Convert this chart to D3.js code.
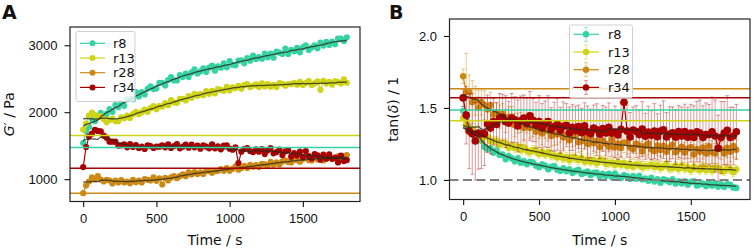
<!DOCTYPE html>
<html>
<head>
<meta charset="utf-8">
<script src="https://cdn.jsdelivr.net/npm/d3@7"></script>
<style>
  body { margin: 0; background: #fff; }
  svg { font-family: "DejaVu Sans", sans-serif; }
</style>
</head>
<body>
<div id="chart"></div>
<script>
// measurement times (s)
const times = [0, 20, 40, 60, 80, 100, 120, 140, 160, 180, 200, 220, 240, 260, 280, 300, 320, 340, 360, 380,
  400, 420, 440, 460, 480, 500, 520, 540, 560, 580, 600, 620, 640, 660, 680, 700, 720, 740, 760, 780,
  800, 820, 840, 860, 880, 900, 920, 940, 960, 980, 1000, 1020, 1040, 1060, 1080, 1100, 1120, 1140, 1160,
  1180, 1200, 1220, 1240, 1260, 1280, 1300, 1320, 1340, 1360, 1380, 1400, 1420, 1440, 1460, 1480, 1500,
  1520, 1540, 1560, 1580, 1600, 1620, 1640, 1660, 1680, 1700, 1720, 1740, 1760, 1780, 1800];

const names = ["r8", "r13", "r28", "r34"];
const colors = ["#35d3a2", "#d0d416", "#cc8a14", "#a80000"];

// panel A : G' / Pa
const gR8 = [1540, 1720, 1780, 1900, 1865, 1930, 1990, 1920, 1975, 2045,
  2005, 2105, 2075, 2135, 2095, 2195, 2200, 2195, 2300, 2235,
  2300, 2265, 2350, 2385, 2345, 2355, 2440, 2440, 2400, 2480,
  2525, 2475, 2475, 2555, 2525, 2575, 2525, 2595, 2640, 2580,
  2610, 2655, 2600, 2665, 2695, 2620, 2685, 2665, 2730, 2670,
  2765, 2710, 2700, 2770, 2775, 2730, 2810, 2770, 2845, 2795,
  2825, 2800, 2875, 2820, 2875, 2815, 2905, 2890, 2870, 2950,
  2870, 2930, 2910, 2960, 2895, 2970, 3000, 2930, 2965, 3000,
  2955, 3040, 2995, 3050, 3005, 3055, 3015, 3100, 3100, 3065, 3120];
const gR13 = [1740, 1830, 1950, 1995, 1955, 1930, 1940, 1900, 1850, 1885,
  1905, 1865, 1865, 1925, 1910, 1950, 1915, 1970, 2005, 1970,
  2000, 2040, 2005, 2060, 2090, 2045, 2090, 2085, 2135, 2105,
  2180, 2145, 2140, 2200, 2200, 2175, 2240, 2215, 2275, 2245,
  2270, 2255, 2315, 2275, 2320, 2280, 2345, 2335, 2320, 2380,
  2325, 2370, 2360, 2395, 2350, 2405, 2420, 2375, 2395, 2415,
  2375, 2430, 2385, 2420, 2380, 2410, 2375, 2435, 2425, 2395,
  2420, 2420, 2440, 2410, 2455, 2405, 2435, 2465, 2405, 2430,
  2460, 2335, 2470, 2430, 2455, 2410, 2465, 2450, 2430, 2490, 2440];
const gR28 = [790, 905, 965, 1025, 995, 1045, 995, 965, 990, 980,
  935, 980, 950, 985, 950, 965, 940, 990, 955, 980,
  950, 1000, 990, 980, 1025, 975, 1010, 920, 1020, 980,
  1025, 1045, 1015, 1045, 1070, 1045, 1100, 1070, 1105, 1075,
  1100, 1075, 1125, 1120, 1095, 1120, 1125, 1150, 1125, 1165,
  1125, 1155, 1190, 1140, 1165, 1200, 1165, 1215, 1185, 1210,
  1180, 1230, 1220, 1205, 1260, 1215, 1250, 1220, 1265, 1280,
  1255, 1250, 1295, 1285, 1260, 1300, 1320, 1285, 1280, 1320,
  1295, 1320, 1280, 1320, 1335, 1300, 1310, 1340, 1305, 1340, 1360];
const gR34 = [1180, 1480, 1640, 1680, 1735, 1720, 1715, 1650, 1620, 1560,
  1560, 1560, 1500, 1505, 1520, 1475, 1525, 1480, 1510, 1465,
  1485, 1450, 1505, 1495, 1465, 1485, 1485, 1505, 1475, 1520,
  1465, 1495, 1525, 1460, 1485, 1515, 1470, 1515, 1475, 1500,
  1455, 1505, 1485, 1460, 1520, 1460, 1490, 1445, 1500, 1505,
  1455, 1440, 1475, 1240, 1410, 1450, 1465, 1420, 1405, 1445,
  1410, 1450, 1375, 1430, 1465, 1385, 1405, 1440, 1360, 1415,
  1435, 1335, 1390, 1355, 1410, 1330, 1420, 1345, 1310, 1375,
  1355, 1290, 1365, 1305, 1370, 1305, 1320, 1250, 1350, 1270, 1285];
const gRefLines = [1472, 1651, 791, 1164];

// panel B : tan(delta)
const tR8 = [1.48, 1.43, 1.365, 1.34, 1.29, 1.285, 1.275, 1.23, 1.215, 1.22,
  1.19, 1.205, 1.175, 1.175, 1.145, 1.165, 1.15, 1.13, 1.15, 1.12,
  1.13, 1.11, 1.125, 1.12, 1.10, 1.09, 1.107, 1.098, 1.075, 1.09,
  1.095, 1.072, 1.063, 1.08, 1.062, 1.073, 1.05, 1.062, 1.07, 1.042,
  1.05, 1.057, 1.035, 1.048, 1.05, 1.023, 1.041, 1.029, 1.042, 1.02,
  1.043, 1.021, 1.014, 1.032, 1.025, 1.008, 1.026, 1.009, 1.027, 1.005,
  1.008, 0.995, 1.013, 0.99, 1.003, 0.981, 1.004, 0.997, 0.985, 1.003,
  0.976, 0.989, 0.977, 0.99, 0.968, 0.986, 0.989, 0.962, 0.97, 0.974,
  0.958, 0.977, 0.961, 0.975, 0.954, 0.968, 0.952, 0.971, 0.965, 0.948, 0.945];
const tR13 = [1.43, 1.385, 1.35, 1.355, 1.325, 1.325, 1.295, 1.30, 1.30, 1.268,
  1.27, 1.273, 1.246, 1.255, 1.254, 1.223, 1.237, 1.222, 1.232, 1.207,
  1.227, 1.202, 1.193, 1.209, 1.20, 1.18, 1.196, 1.177, 1.193, 1.169,
  1.17, 1.156, 1.172, 1.148, 1.16, 1.137, 1.159, 1.151, 1.138, 1.155,
  1.127, 1.139, 1.126, 1.138, 1.116, 1.134, 1.137, 1.11, 1.118, 1.121,
  1.104, 1.122, 1.105, 1.118, 1.096, 1.109, 1.092, 1.11, 1.104, 1.088,
  1.097, 1.096, 1.105, 1.089, 1.103, 1.082, 1.096, 1.105, 1.079, 1.083,
  1.097, 1.076, 1.10, 1.079, 1.088, 1.067, 1.091, 1.08, 1.069, 1.093,
  1.067, 1.081, 1.065, 1.084, 1.083, 1.067, 1.061, 1.08, 1.074, 1.053, 1.072];
const tR28 = [1.72, 1.61, 1.61, 1.54, 1.55, 1.50, 1.54, 1.52, 1.49, 1.52,
  1.455, 1.47, 1.44, 1.46, 1.41, 1.44, 1.44, 1.38, 1.395, 1.40,
  1.36, 1.395, 1.36, 1.38, 1.335, 1.36, 1.323, 1.357, 1.34, 1.305,
  1.32, 1.315, 1.33, 1.295, 1.32, 1.275, 1.30, 1.316, 1.262, 1.268,
  1.294, 1.25, 1.297, 1.254, 1.271, 1.228, 1.275, 1.252, 1.23, 1.278,
  1.226, 1.254, 1.222, 1.26, 1.258, 1.226, 1.214, 1.252, 1.24, 1.198,
  1.236, 1.254, 1.212, 1.20, 1.239, 1.208, 1.237, 1.196, 1.225, 1.244,
  1.193, 1.212, 1.231, 1.19, 1.219, 1.228, 1.177, 1.216, 1.195, 1.225,
  1.184, 1.234, 1.193, 1.183, 1.223, 1.213, 1.184, 1.224, 1.195, 1.236, 1.21];
const tR34 = [1.57, 1.45, 1.34, 1.32, 1.27, 1.325, 1.32, 1.32, 1.39, 1.36,
  1.405, 1.385, 1.43, 1.435, 1.405, 1.395, 1.43, 1.418, 1.375, 1.413,
  1.43, 1.39, 1.445, 1.415, 1.38, 1.405, 1.36, 1.388, 1.405, 1.352,
  1.37, 1.387, 1.345, 1.372, 1.38, 1.327, 1.365, 1.342, 1.37, 1.328,
  1.376, 1.334, 1.322, 1.36, 1.349, 1.318, 1.357, 1.326, 1.365, 1.324,
  1.333, 1.312, 1.351, 1.54, 1.339, 1.298, 1.347, 1.336, 1.315, 1.354,
  1.303, 1.332, 1.311, 1.34, 1.30, 1.339, 1.349, 1.298, 1.318, 1.327,
  1.297, 1.336, 1.306, 1.336, 1.296, 1.325, 1.295, 1.335, 1.325, 1.295,
  1.315, 1.315, 1.335, 1.305, 1.22, 1.295, 1.325, 1.345, 1.295, 1.305, 1.335];
// error bars (+/-)
const eR8 = [0.03, 0.03, 0.03, 0.03, 0.03, 0.02, 0.02, 0.02, 0.02, 0.02,
  0.02, 0.02, 0.02, 0.02, 0.02, 0.02, 0.02, 0.02, 0.02, 0.02,
  0.02, 0.02, 0.02, 0.02, 0.02, 0.02, 0.02, 0.02, 0.02, 0.02,
  0.02, 0.02, 0.02, 0.02, 0.02, 0.02, 0.02, 0.02, 0.02, 0.02,
  0.02, 0.02, 0.02, 0.02, 0.02, 0.02, 0.02, 0.02, 0.02, 0.02,
  0.02, 0.02, 0.02, 0.02, 0.02, 0.02, 0.02, 0.02, 0.02, 0.02,
  0.02, 0.02, 0.02, 0.02, 0.02, 0.02, 0.02, 0.02, 0.02, 0.02,
  0.02, 0.02, 0.02, 0.02, 0.02, 0.02, 0.02, 0.02, 0.02, 0.02,
  0.02, 0.02, 0.02, 0.02, 0.02, 0.02, 0.02, 0.02, 0.02, 0.02, 0.02];
const eR13 = [0.05, 0.05, 0.04, 0.04, 0.04, 0.04, 0.04, 0.04, 0.03, 0.03,
  0.03, 0.03, 0.03, 0.03, 0.03, 0.03, 0.03, 0.03, 0.03, 0.03,
  0.03, 0.03, 0.03, 0.03, 0.03, 0.03, 0.03, 0.03, 0.03, 0.03,
  0.03, 0.03, 0.03, 0.03, 0.03, 0.03, 0.03, 0.03, 0.03, 0.03,
  0.03, 0.03, 0.03, 0.03, 0.03, 0.03, 0.03, 0.03, 0.03, 0.03,
  0.03, 0.03, 0.03, 0.03, 0.03, 0.03, 0.03, 0.03, 0.03, 0.03,
  0.03, 0.03, 0.03, 0.03, 0.03, 0.03, 0.03, 0.03, 0.03, 0.03,
  0.03, 0.03, 0.03, 0.03, 0.03, 0.03, 0.03, 0.03, 0.03, 0.03,
  0.03, 0.03, 0.03, 0.03, 0.03, 0.03, 0.03, 0.03, 0.03, 0.03, 0.03];
const eR28 = [0.05, 0.27, 0.12, 0.15, 0.10, 0.12, 0.09, 0.10, 0.08, 0.09,
  0.08, 0.07, 0.08, 0.07, 0.08, 0.07, 0.07, 0.08, 0.07, 0.07,
  0.08, 0.07, 0.07, 0.08, 0.07, 0.07, 0.08, 0.07, 0.07, 0.07,
  0.08, 0.07, 0.07, 0.08, 0.07, 0.07, 0.07, 0.08, 0.07, 0.07,
  0.08, 0.07, 0.07, 0.07, 0.08, 0.07, 0.07, 0.08, 0.07, 0.07,
  0.07, 0.08, 0.07, 0.07, 0.08, 0.07, 0.07, 0.07, 0.08, 0.07,
  0.07, 0.08, 0.07, 0.07, 0.07, 0.08, 0.07, 0.07, 0.08, 0.07,
  0.07, 0.07, 0.08, 0.07, 0.07, 0.08, 0.07, 0.07, 0.07, 0.08,
  0.07, 0.07, 0.08, 0.07, 0.07, 0.07, 0.08, 0.07, 0.07, 0.08, 0.07];
const eR34 = [0.06, 0.20, 0.26, 0.28, 0.27, 0.25, 0.24, 0.22, 0.20, 0.18,
  0.16, 0.15, 0.17, 0.16, 0.18, 0.15, 0.17, 0.16, 0.18, 0.17,
  0.16, 0.18, 0.17, 0.15, 0.16, 0.18, 0.17, 0.16, 0.18, 0.15,
  0.17, 0.18, 0.16, 0.17, 0.15, 0.18, 0.16, 0.17, 0.15, 0.17,
  0.16, 0.18, 0.17, 0.16, 0.18, 0.17, 0.16, 0.18, 0.17, 0.16,
  0.18, 0.17, 0.19, 0.02, 0.18, 0.17, 0.16, 0.18, 0.17, 0.19,
  0.16, 0.18, 0.17, 0.19, 0.16, 0.18, 0.20, 0.17, 0.19, 0.18,
  0.19, 0.18, 0.20, 0.19, 0.21, 0.20, 0.22, 0.21, 0.23, 0.22,
  0.22, 0.21, 0.24, 0.25, 0.23, 0.25, 0.22, 0.24, 0.21, 0.20, 0.19];
const tRefLines = [1.485, 1.411, 1.633, 1.571];

const xTicks = [0, 500, 1000, 1500];
const gTicks = [1000, 2000, 3000];
const tTicks = [1.0, 1.5, 2.0];

// ---- layout ----
const width = 754;
const height = 250;
const svg = d3.select("#chart").append("svg")
  .attr("width", width)
  .attr("height", height);

const boxA = { left: 70, right: 360, top: 27, bottom: 201.5 };
const boxB = { left: 449.5, right: 750, top: 19, bottom: 199.5 };

const xA = d3.scaleLinear().domain([-90, 1890]).range([boxA.left, boxA.right]);
const yA = d3.scaleLinear().domain([666, 3273]).range([boxA.bottom, boxA.top]);
const xB = d3.scaleLinear().domain([-90, 1890]).range([boxB.left, boxB.right]);
const yB = d3.scaleLinear().domain([0.864, 2.118]).range([boxB.bottom, boxB.top]);

// rolling mean for the dark trend lines
function rollingMean(values, half) {
  return values.map((v, i) => d3.mean(values.slice(Math.max(0, i - half), i + half + 1)));
}

function addClip(id, box) {
  svg.append("clipPath").attr("id", id).append("rect")
    .attr("x", box.left).attr("y", box.top)
    .attr("width", box.right - box.left).attr("height", box.bottom - box.top);
}
addClip("clipA", boxA);
addClip("clipB", boxB);

function drawAxes(box, x, y, yTicks, yFormat) {
  svg.append("g")
    .attr("transform", `translate(0,${box.bottom})`)
    .call(d3.axisBottom(x).tickValues(xTicks).tickSize(5.5).tickPadding(7).tickFormat(d3.format("d")))
    .call(g => g.select(".domain").remove())
    .call(g => g.selectAll("text").attr("font-size", 13).attr("fill", "#111"))
    .call(g => g.selectAll("line").attr("stroke", "#111").attr("stroke-width", 1.1));
  svg.append("g")
    .attr("transform", `translate(${box.left},0)`)
    .call(d3.axisLeft(y).tickValues(yTicks).tickSize(5.5).tickPadding(7).tickFormat(yFormat))
    .call(g => g.select(".domain").remove())
    .call(g => g.selectAll("text").attr("font-size", 13).attr("fill", "#111"))
    .call(g => g.selectAll("line").attr("stroke", "#111").attr("stroke-width", 1.1));
  svg.append("text")
    .attr("x", (box.left + box.right) / 2).attr("y", 245)
    .attr("text-anchor", "middle").attr("font-size", 14).attr("fill", "#111")
    .text("Time / s");
}

function drawFrame(box) {
  svg.append("rect")
    .attr("x", box.left).attr("y", box.top)
    .attr("width", box.right - box.left).attr("height", box.bottom - box.top)
    .attr("fill", "none").attr("stroke", "#222").attr("stroke-width", 1.2);
}

// ================= Panel A =================
const gSeries = [gR8, gR13, gR28, gR34];
const plotA = svg.append("g").attr("clip-path", "url(#clipA)");

gSeries.forEach((vals, k) => {
  const pts = times.map((t, i) => [t, vals[i]]);
  plotA.append("path")
    .datum(pts)
    .attr("fill", "none").attr("stroke", colors[k]).attr("stroke-width", 1.2)
    .attr("d", d3.line().x(d => xA(d[0])).y(d => yA(d[1])));
  plotA.append("g").selectAll("circle")
    .data(pts)
    .join("circle")
    .attr("cx", d => xA(d[0]))
    .attr("cy", d => yA(d[1]))
    .attr("r", 3.1)
    .attr("fill", colors[k]);
});

gSeries.forEach(vals => {
  const sm = rollingMean(vals, 5);
  plotA.append("path")
    .datum(times.map((t, i) => [t, sm[i]]))
    .attr("fill", "none").attr("stroke", "#2a2a1e").attr("stroke-opacity", 0.8).attr("stroke-width", 1.3)
    .attr("d", d3.line().curve(d3.curveMonotoneX).x(d => xA(d[0])).y(d => yA(d[1])));
});

// legend A
const legA = svg.append("g");
legA.append("rect")
  .attr("x", 76).attr("y", 31.5).attr("width", 59).attr("height", 70).attr("rx", 2)
  .attr("fill", "#fff").attr("fill-opacity", 0.8).attr("stroke", "#d0d0d0");
names.forEach((n, k) => {
  const yy = 43.3 + k * 14.7;
  legA.append("line").attr("x1", 80).attr("x2", 105).attr("y1", yy).attr("y2", yy)
    .attr("stroke", colors[k]).attr("stroke-width", 1.2);
  legA.append("circle").attr("cx", 92.5).attr("cy", yy).attr("r", 3).attr("fill", colors[k]);
  legA.append("text").attr("x", 113).attr("y", yy).attr("dy", "0.35em")
    .attr("font-size", 13).attr("fill", "#111").text(n);
});

gRefLines.forEach((v, k) => {
  plotA.append("line")
    .attr("x1", boxA.left).attr("x2", boxA.right)
    .attr("y1", yA(v)).attr("y2", yA(v))
    .attr("stroke", colors[k]).attr("stroke-width", 1.5);
});

drawFrame(boxA);
drawAxes(boxA, xA, yA, gTicks, d3.format("d"));

const labA = svg.append("text")
  .attr("transform", `translate(14,${(boxA.top + boxA.bottom) / 2}) rotate(-90)`)
  .attr("text-anchor", "middle").attr("font-size", 14).attr("fill", "#111");
labA.append("tspan").attr("font-style", "italic").text("G");
labA.append("tspan").text("\u2032 / Pa");

svg.append("text").attr("x", 2).attr("y", 19)
  .attr("font-size", 19).attr("font-weight", "bold").attr("fill", "#111").text("A");

// ================= Panel B =================
const tSeries = [tR8, tR13, tR28, tR34];
const tErrors = [eR8, eR13, eR28, eR34];
const errOpacity = [0.5, 0.5, 0.45, 0.4];
const plotB = svg.append("g").attr("clip-path", "url(#clipB)");

tSeries.forEach((vals, k) => {
  const pts = times.map((t, i) => ({ t: t, v: vals[i], e: tErrors[k][i] }));
  const eg = plotB.append("g")
    .attr("stroke", colors[k]).attr("stroke-opacity", errOpacity[k]).attr("stroke-width", 1);
  eg.selectAll("line.bar").data(pts).join("line").attr("class", "bar")
    .attr("x1", d => xB(d.t)).attr("x2", d => xB(d.t))
    .attr("y1", d => yB(d.v - d.e)).attr("y2", d => yB(d.v + d.e));
  eg.selectAll("line.capTop").data(pts).join("line").attr("class", "capTop")
    .attr("x1", d => xB(d.t) - 2).attr("x2", d => xB(d.t) + 2)
    .attr("y1", d => yB(d.v + d.e)).attr("y2", d => yB(d.v + d.e));
  eg.selectAll("line.capBot").data(pts).join("line").attr("class", "capBot")
    .attr("x1", d => xB(d.t) - 2).attr("x2", d => xB(d.t) + 2)
    .attr("y1", d => yB(d.v - d.e)).attr("y2", d => yB(d.v - d.e));
  plotB.append("path")
    .datum(pts)
    .attr("fill", "none").attr("stroke", colors[k]).attr("stroke-width", 1.2)
    .attr("d", d3.line().x(d => xB(d.t)).y(d => yB(d.v)));
  plotB.append("g").selectAll("circle")
    .data(pts)
    .join("circle")
    .attr("cx", d => xB(d.t))
    .attr("cy", d => yB(d.v))
    .attr("r", k === 3 ? 3.8 : 3.2)
    .attr("fill", colors[k]);
});

tSeries.forEach(vals => {
  const sm = rollingMean(vals, 5);
  plotB.append("path")
    .datum(times.map((t, i) => [t, sm[i]]))
    .attr("fill", "none").attr("stroke", "#2a2a1e").attr("stroke-opacity", 0.8).attr("stroke-width", 1.3)
    .attr("d", d3.line().curve(d3.curveMonotoneX).x(d => xB(d[0])).y(d => yB(d[1])));
});

plotB.append("line")
  .attr("x1", boxB.left).attr("x2", boxB.right)
  .attr("y1", yB(1)).attr("y2", yB(1))
  .attr("stroke", "#808080").attr("stroke-width", 2).attr("stroke-dasharray", "9,4.5");

// legend B
const legB = svg.append("g");
legB.append("rect")
  .attr("x", 569.5).attr("y", 25).attr("width", 63).attr("height", 73).attr("rx", 2)
  .attr("fill", "#fff").attr("fill-opacity", 0.8).attr("stroke", "#d0d0d0");
names.forEach((n, k) => {
  const yy = 34.3 + k * 17.7;
  legB.append("line").attr("x1", 573.5).attr("x2", 599).attr("y1", yy).attr("y2", yy)
    .attr("stroke", colors[k]).attr("stroke-width", 1.2);
  const eb = legB.append("g").attr("stroke", colors[k]).attr("stroke-opacity", errOpacity[k]);
  eb.append("line").attr("x1", 586).attr("x2", 586).attr("y1", yy - 7).attr("y2", yy + 7);
  eb.append("line").attr("x1", 584).attr("x2", 588).attr("y1", yy - 7).attr("y2", yy - 7);
  eb.append("line").attr("x1", 584).attr("x2", 588).attr("y1", yy + 7).attr("y2", yy + 7);
  legB.append("circle").attr("cx", 586).attr("cy", yy).attr("r", 3.2).attr("fill", colors[k]);
  legB.append("text").attr("x", 608).attr("y", yy).attr("dy", "0.35em")
    .attr("font-size", 13).attr("fill", "#111").text(n);
});

tRefLines.forEach((v, k) => {
  plotB.append("line")
    .attr("x1", boxB.left).attr("x2", boxB.right)
    .attr("y1", yB(v)).attr("y2", yB(v))
    .attr("stroke", colors[k]).attr("stroke-width", 1.5);
});

drawFrame(boxB);
drawAxes(boxB, xB, yB, tTicks, d3.format(".1f"));

const labB = svg.append("text")
  .attr("transform", `translate(398,${(boxB.top + boxB.bottom) / 2}) rotate(-90)`)
  .attr("text-anchor", "middle").attr("font-size", 14).attr("fill", "#111");
labB.append("tspan").text("tan(");
labB.append("tspan").attr("font-style", "italic").text("\u03b4");
labB.append("tspan").text(") / 1");

svg.append("text").attr("x", 389).attr("y", 19)
  .attr("font-size", 19).attr("font-weight", "bold").attr("fill", "#111").text("B");
</script>
</body>
</html>
